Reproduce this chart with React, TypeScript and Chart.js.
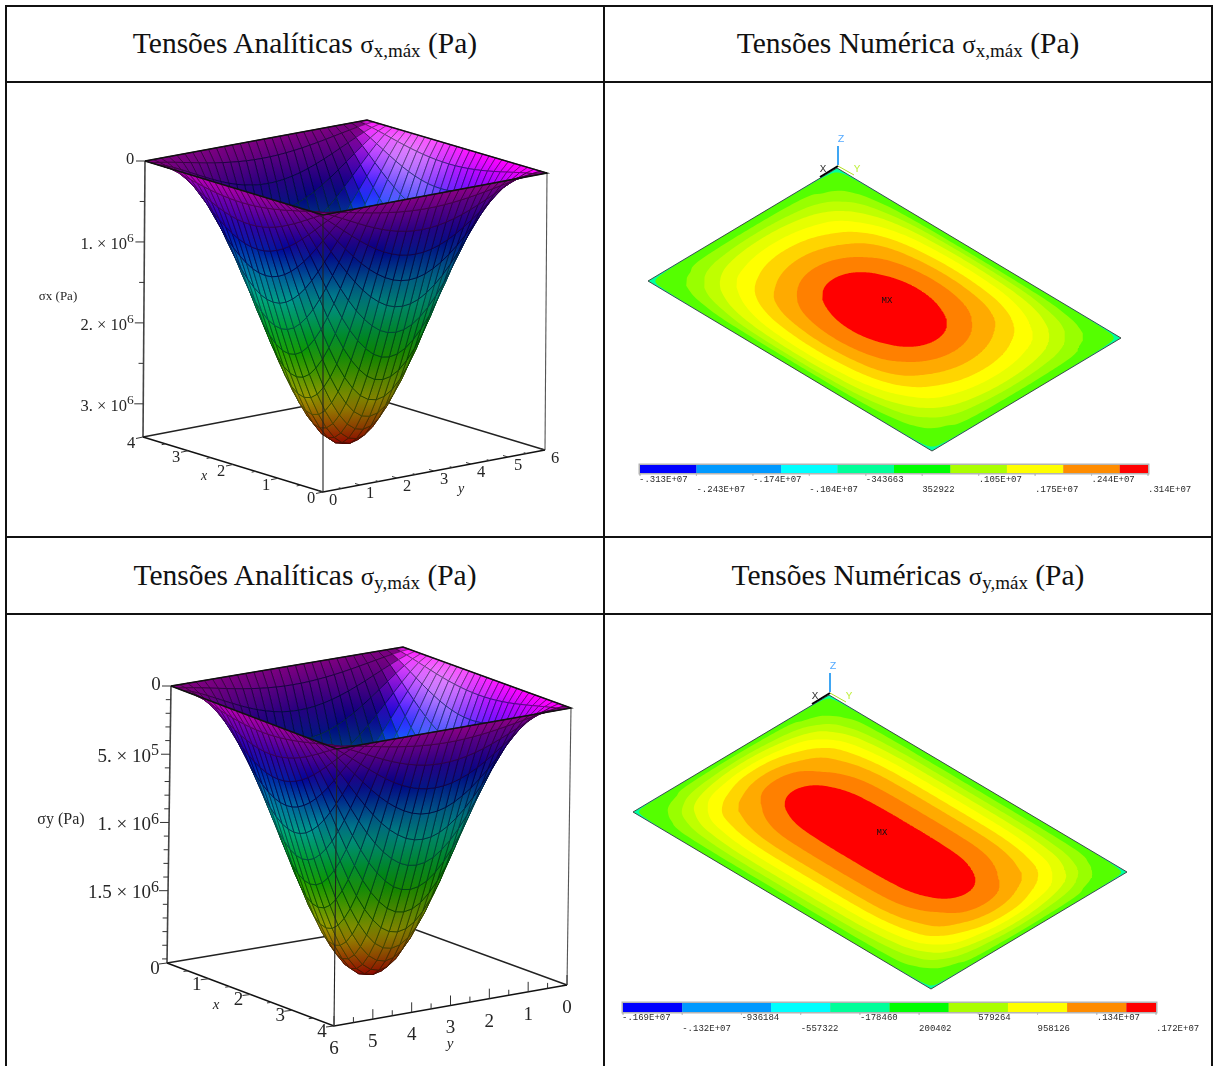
import React, { useEffect, useRef } from "react";
import { Chart, registerables } from "chart.js";

Chart.register(...registerables);

// ---------- data ----------
const xTicks = [0, 1, 2, 3, 4];
const yTicks = [0, 1, 2, 3, 4, 5, 6];
const xMinorStep = 0.5;
const yMinorStep = 0.5;

// normalised stress profile across the plate (29 grid lines each way)
const profileAlongX = [0, 0.058, 0.142, 0.238, 0.338, 0.44, 0.541, 0.637, 0.726, 0.806, 0.873, 0.927, 0.968, 0.992, 1, 0.992, 0.968, 0.927, 0.873, 0.806, 0.726, 0.637, 0.541, 0.44, 0.338, 0.238, 0.142, 0.058, 0];
const profileAlongY = [0, 0.058, 0.142, 0.238, 0.338, 0.44, 0.541, 0.637, 0.726, 0.806, 0.873, 0.927, 0.968, 0.992, 1, 0.992, 0.968, 0.927, 0.873, 0.806, 0.726, 0.637, 0.541, 0.44, 0.338, 0.238, 0.142, 0.058, 0];

const sxPeak = 3.41e6;
const sxAxisMax = 3.41e6;
const sxMajorTicks = [0, 1e6, 2e6, 3e6];
const sxMajorLabels = [["0", ""], ["1. × 10", "6"], ["2. × 10", "6"], ["3. × 10", "6"]];
const sxMinorTicks = [5e5, 1.5e6, 2.5e6];

const syPeak = 2.03e6;
const syAxisMax = 2.03e6;
const syMajorTicks = [0, 5e5, 1e6, 1.5e6];
const syMajorLabels = [["0", ""], ["5. × 10", "5"], ["1. × 10", "6"], ["1.5 × 10", "6"]];
const syMinorTicks = [1e5, 2e5, 3e5, 4e5, 6e5, 7e5, 8e5, 9e5, 1.1e6, 1.2e6, 1.3e6, 1.4e6, 1.6e6, 1.7e6, 1.8e6, 1.9e6, 2e6];

// contour bands of the numeric plots
const bandColors = ["#55ff00", "#99ff00", "#bfff00", "#e6ff00", "#ffff00", "#ffd500", "#ffaa00", "#ff8000", "#ff0000"];
const bandLevels = [0.000003, 0.005, 0.022, 0.055, 0.115, 0.21, 0.345, 0.53, 0.74];
const fieldValues = [1, 0.928, 0.74, 0.53, 0.345, 0.21, 0.115, 0.055, 0.022, 0.005, 0.000003, 0.0000001];
const sxCrossAlongX = [0, 0.18, 0.36, 0.52, 0.63, 0.72, 0.8, 0.86, 0.91, 0.95, 0.999, 1];
const sxCrossAlongY = [0, 0.18, 0.36, 0.49, 0.6, 0.7, 0.78, 0.85, 0.9, 0.95, 0.999, 1];
const syCrossAlongX = [0, 0.15, 0.3, 0.46, 0.58, 0.67, 0.75, 0.82, 0.88, 0.94, 0.999, 1];
const syCrossAlongY = [0, 0.3, 0.45, 0.58, 0.7, 0.77, 0.83, 0.87, 0.91, 0.94, 0.975, 0.999, 1];
const syValuesAlongY = [1, 0.98, 0.9, 0.74, 0.53, 0.345, 0.21, 0.115, 0.055, 0.022, 0.005, 0.000003, 0.0000001];

// colour bars
const barColors = ["#0000ff", "#0099ff", "#00ffff", "#00ff99", "#00ff00", "#aaff00", "#ffff00", "#ff8c00", "#ff0000"];
const barStops = [0, 1, 2.5, 3.5, 4.5, 5.5, 6.5, 7.5, 8.5, 9];
const sxBarLabels = ["-.313E+07", "-.243E+07", "-.174E+07", "-.104E+07", "-343663", "352922", ".105E+07", ".175E+07", ".244E+07", ".314E+07"];
const syBarLabels = ["-.169E+07", "-.132E+07", "-936184", "-557322", "-178460", "200402", "579264", "958126", ".134E+07", ".172E+07"];

// ---------- helpers ----------
type P = [number, number];
const lerp = (a: P, b: P, t: number): P => [a[0] + (b[0] - a[0]) * t, a[1] + (b[1] - a[1]) * t];
const clamp = (v: number, a = 0, b = 1) => Math.max(a, Math.min(b, v));
const smooth = (e0: number, e1: number, v: number) => {
  const t = clamp((v - e0) / (e1 - e0));
  return t * t * (3 - 2 * t);
};
const hex2 = (n: number) => Math.round(clamp(n, 0, 255)).toString(16).padStart(2, "0");
function hsv(h: number, s: number, v: number, dark = 1) {
  const c = v * s;
  const hh = ((h % 360) + 360) % 360 / 60;
  const x = c * (1 - Math.abs((hh % 2) - 1));
  let rgb = [0, 0, 0];
  if (hh < 1) rgb = [c, x, 0];
  else if (hh < 2) rgb = [x, c, 0];
  else if (hh < 3) rgb = [0, c, x];
  else if (hh < 4) rgb = [0, x, c];
  else if (hh < 5) rgb = [x, 0, c];
  else rgb = [c, 0, x];
  const m = v - c;
  return "#" + rgb.map((q) => hex2((q + m) * 255 * dark)).join("");
}

const polyDs = (pts: P[], fillColor: any, border = "transparent", bw = 0) => ({
  data: pts.map((p) => ({ x: p[0], y: p[1] })),
  showLine: true,
  fill: "shape",
  backgroundColor: fillColor,
  borderColor: border,
  borderWidth: bw,
  pointRadius: 0,
  tension: 0,
});
const lineDs = (pts: P[], color: string, bw = 1) => ({
  data: pts.map((p) => ({ x: p[0], y: p[1] })),
  showLine: true,
  fill: false,
  borderColor: color,
  borderWidth: bw,
  pointRadius: 0,
  tension: 0,
});

type TextItem = { text: string; x: number; y: number; font: string; color: string; align?: CanvasTextAlign };

function makeChart(canvas: HTMLCanvasElement, rect: number[], datasets: any[], texts: TextItem[]) {
  const [left, top, w, h] = rect;
  const textLayer = {
    id: "textLayer",
    afterDatasetsDraw(chart: any) {
      const ctx = chart.ctx;
      ctx.save();
      for (const t of texts) {
        ctx.font = t.font;
        ctx.fillStyle = t.color;
        ctx.textAlign = t.align || "center";
        ctx.textBaseline = "middle";
        ctx.fillText(t.text, chart.scales.x.getPixelForValue(t.x), chart.scales.y.getPixelForValue(t.y));
      }
      ctx.restore();
    },
  };
  return new Chart(canvas, {
    type: "scatter",
    data: { datasets },
    options: {
      animation: false,
      responsive: false,
      events: [],
      layout: { padding: 0 },
      plugins: { legend: { display: false }, tooltip: { enabled: false } },
      scales: {
        x: { type: "linear", display: false, min: left, max: left + w },
        y: { type: "linear", display: false, reverse: true, min: top, max: top + h },
      },
    } as any,
    plugins: [textLayer],
  } as any);
}

// ---------- 3-D surface panels ----------
type Box = { near: P; left: P; right: P; back: P; nearB: P; leftB: P; rightB: P; backB: P };

function project(b: Box, u: number, v: number, w: number): P {
  const t0 = lerp(lerp(b.near, b.left, u), lerp(b.right, b.back, u), v);
  const t1 = lerp(lerp(b.nearB, b.leftB, u), lerp(b.rightB, b.backB, u), v);
  return lerp(t0, t1, w);
}

function surfaceDatasets(canvas: HTMLCanvasElement, rect: number[], b: Box, peak: number, axisMax: number, reversed: boolean, meshDark: number) {
  const ctx = canvas.getContext("2d")!;
  const nx = profileAlongX.length - 1;
  const ny = profileAlongY.length - 1;
  const W = (i: number, j: number) => {
    const ii = clamp(i, 0, nx), jj = clamp(j, 0, ny);
    const pi = reversed ? profileAlongX[nx - ii] : profileAlongX[ii];
    const pj = reversed ? profileAlongY[ny - jj] : profileAlongY[jj];
    return (peak * pi * pj) / axisMax;
  };
  const shade = (i: number, j: number, inner: boolean, dark = 1) => {
    const w = W(i, j), um = i / nx, vm = j / ny;
    const du = W(i + 1, j) - W(i - 1, j);
    const dv = W(i, j + 1) - W(i, j - 1);
    const hue = 300 * (1 - w);
    let val: number, sat = 1;
    if (inner) {
      const len = Math.hypot(du, dv) || 1;
      const bright = dv < 0 ? smooth(0.42, 0.88, Math.abs(dv) / len) : 0;
      val = 0.5 + 0.5 * bright;
      const spec = Math.exp(-(((um - 0.72) ** 2) / 0.05 + ((vm - 0.95) ** 2) / 0.006));
      sat = 1 - 0.5 * spec * bright - 0.12 * bright * w;
    } else {
      val = 0.52 + 0.28 * clamp(um - vm * 0.6);
    }
    return hsv(hue, clamp(sat), clamp(val), dark);
  };
  const out: any[] = [];
  for (let i = 0; i < nx; i++) {
    for (let j = 0; j < ny; j++) {
      const idx: P[] = [[i, j], [i + 1, j], [i + 1, j + 1], [i, j + 1]];
      const ws = idx.map(([p, q]) => W(p, q));
      const pts: P[] = idx.map(([p, q], k) => project(b, p / nx, q / ny, ws[k]));
      let area = 0;
      for (let k = 0; k < 4; k++) {
        const p = pts[k], q = pts[(k + 1) % 4];
        area += p[0] * q[1] - q[0] * p[1];
      }
      const inner = area > 0;
      let lo = 0, hi = 0;
      ws.forEach((w, k) => {
        if (w < ws[lo]) lo = k;
        if (w > ws[hi]) hi = k;
      });
      if (lo === hi) hi = (lo + 2) % 4;
      const g = ctx.createLinearGradient(pts[lo][0] - rect[0], pts[lo][1] - rect[1], pts[hi][0] - rect[0], pts[hi][1] - rect[1]);
      g.addColorStop(0, shade(idx[lo][0], idx[lo][1], inner));
      g.addColorStop(1, shade(idx[hi][0], idx[hi][1], inner));
      out.push(polyDs([...pts, pts[0]], g, shade(i, j, inner, meshDark), 0.9));
    }
  }
  return out;
}

type SurfaceSpec = {
  rect: number[];
  box: Box;
  peak: number;
  axisMax: number;
  reversed: boolean;
  xToU: (x: number) => number;
  yToV: (y: number) => number;
  majors: number[];
  majorLabels: string[][];
  minors: number[];
  labelRight: number;
  tickFontSize: number;
  axisLabel: TextItem;
  xLabel: TextItem;
  yLabel: TextItem;
  xOff: P;
  yOff: P;
  xTick: P;
  yTick: P;
};

function surfacePanel(canvas: HTMLCanvasElement, s: SurfaceSpec) {
  const b = s.box;
  const front: any[] = [];
  const texts: TextItem[] = [];
  const tickFont = `${s.tickFontSize}px "Liberation Serif"`;
  const color = "#262626";
  const zPt = (z: number) => project(b, 1, 0, z / s.axisMax);
  s.majors.forEach((z, k) => {
    const p = zPt(z);
    front.push(lineDs([[p[0] - 9, p[1]], p], "#333", 1));
    const [main, exp] = s.majorLabels[k];
    if (exp) {
      texts.push({ text: main, x: s.labelRight - 7, y: p[1] + 2.5, font: tickFont, color, align: "right" });
      texts.push({ text: exp, x: s.labelRight - 7, y: p[1] - 3, font: `${s.tickFontSize - 3}px "Liberation Serif"`, color, align: "left" });
    } else {
      texts.push({ text: main, x: p[0] - 15, y: p[1] - 1, font: tickFont, color });
    }
  });
  s.minors.forEach((z) => {
    const p = zPt(z);
    front.push(lineDs([[p[0] - 5, p[1]], p], "#333", 1));
  });
  const xBase = (x: number) => project(b, s.xToU(x), 0, 1);
  const yBase = (y: number) => project(b, 0, s.yToV(y), 1);
  xTicks.forEach((x) => {
    const p = xBase(x);
    front.push(lineDs([p, [p[0] + s.xTick[0], p[1] + s.xTick[1]]], "#333", 1));
    texts.push({ text: String(x), x: p[0] + s.xOff[0], y: p[1] + s.xOff[1], font: tickFont, color });
    if (x < 4) {
      const m = xBase(x + xMinorStep);
      front.push(lineDs([m, [m[0] + s.xTick[0] * 0.55, m[1] + s.xTick[1] * 0.55]], "#333", 1));
    }
  });
  yTicks.forEach((y) => {
    const p = yBase(y);
    front.push(lineDs([p, [p[0] + s.yTick[0], p[1] + s.yTick[1]]], "#333", 1));
    texts.push({ text: String(y), x: p[0] + s.yOff[0], y: p[1] + s.yOff[1], font: tickFont, color });
    if (y < 6) {
      const m = yBase(y + yMinorStep);
      front.push(lineDs([m, [m[0] + s.yTick[0] * 0.55, m[1] + s.yTick[1] * 0.55]], "#333", 1));
    }
  });
  texts.push(s.axisLabel, s.xLabel, s.yLabel);

  const overlay = [
    ...front,
    lineDs([b.near, b.nearB], "#222", 1.1),
    lineDs([b.leftB, b.nearB, b.rightB], "#111", 1.5),
    lineDs([b.left, b.near, b.right, b.back, b.left], "#111", 1.5),
  ];
  const backLines = [
    lineDs([b.left, b.leftB], "#444", 1.6),
    lineDs([b.right, b.rightB], "#555", 1.1),
    lineDs([b.leftB, b.backB, b.rightB], "#222", 1.5),
  ];
  const datasets = [...overlay, ...surfaceDatasets(canvas, s.rect, b, s.peak, s.axisMax, s.reversed, 0.52), ...backLines];
  return makeChart(canvas, s.rect, datasets, texts);
}

// ---------- numeric contour panels ----------
// cubic through the log of the band values, so contours stay smooth
function makeProfile(pos: number[], val: number[]) {
  const ly = val.map((v) => Math.log(v));
  const n = pos.length;
  const d: number[] = [];
  for (let i = 0; i < n - 1; i++) d.push((ly[i + 1] - ly[i]) / (pos[i + 1] - pos[i]));
  const m: number[] = [0];
  for (let i = 1; i < n - 1; i++) {
    const h0 = pos[i] - pos[i - 1], h1 = pos[i + 1] - pos[i];
    const avg = (h1 * d[i - 1] + h0 * d[i]) / (h0 + h1);
    const limit = 3 * Math.min(Math.abs(d[i - 1]), Math.abs(d[i]));
    m.push(-Math.min(Math.abs(avg), limit));
  }
  m.push(d[n - 2]);
  return (q: number) => {
    const t = Math.min(1, Math.abs(q));
    let i = 0;
    while (i < n - 2 && t > pos[i + 1]) i++;
    const h = pos[i + 1] - pos[i];
    const f = (t - pos[i]) / h;
    const f2 = f * f, f3 = f2 * f;
    return Math.exp((2 * f3 - 3 * f2 + 1) * ly[i] + (f3 - 2 * f2 + f) * h * m[i] + (-2 * f3 + 3 * f2) * ly[i + 1] + (f3 - f2) * h * m[i + 1]);
  };
}

type PlateSpec = {
  rect: number[];
  top: P;
  left: P;
  right: P;
  crossX: number[];
  valX: number[];
  crossY: number[];
  valY: number[];
  mx: P;
  barLeft: number;
  barRight: number;
  barTop: number;
  barBottom: number;
  barLabels: string[];
  labelRow1: number;
  labelRow2: number;
};

function platePanel(canvas: HTMLCanvasElement, s: PlateSpec) {
  const toPage = (u: number, v: number): P => [
    s.top[0] + ((u + 1) / 2) * (s.left[0] - s.top[0]) + ((v + 1) / 2) * (s.right[0] - s.top[0]),
    s.top[1] + ((u + 1) / 2) * (s.left[1] - s.top[1]) + ((v + 1) / 2) * (s.right[1] - s.top[1]),
  ];
  const gx = makeProfile(s.crossX, s.valX);
  const gy = makeProfile(s.crossY, s.valY);
  const field = (u: number, v: number) => gx(u) * gy(v);
  const contour = (level: number): P[] => {
    const pts: P[] = [];
    const N = 360;
    for (let k = 0; k <= N; k++) {
      const th = (2 * Math.PI * k) / N;
      const c = Math.cos(th), d = Math.sin(th);
      let lo = 0, hi = 1 / Math.max(Math.abs(c), Math.abs(d));
      for (let it = 0; it < 26; it++) {
        const mid = (lo + hi) / 2;
        if (field(mid * c, mid * d) > level) lo = mid;
        else hi = mid;
      }
      pts.push(toPage(lo * c, lo * d));
    }
    return pts;
  };
  const corners: P[] = [toPage(-1, -1), toPage(1, -1), toPage(1, 1), toPage(-1, 1), toPage(-1, -1)];
  const bands = bandLevels.map((lv, i) => polyDs(contour(lv), bandColors[i]));
  const o = s.top;
  const triad = [
    lineDs([[o[0] + 1, o[1] - 3], [o[0] + 1, o[1] - 22]], "#1090f0", 1.6),
    lineDs([[o[0] + 1, o[1] - 2], [o[0] - 17, o[1] + 9]], "#000", 2),
    lineDs([[o[0] + 1, o[1] - 2], [o[0] + 17, o[1] + 7]], "#b0e020", 1),
  ];
  const outline = lineDs(corners, "#3a3a3a", 0.9);
  const slot = (s.barRight - s.barLeft) / 9;
  const barRects = barColors.map((c, i) => {
    const x0 = s.barLeft + barStops[i] * slot, x1 = s.barLeft + barStops[i + 1] * slot;
    return polyDs([[x0, s.barTop], [x1, s.barTop], [x1, s.barBottom], [x0, s.barBottom], [x0, s.barTop]], c);
  });
  const frame = polyDs(
    [[s.barLeft - 1.5, s.barTop - 1.5], [s.barRight + 1.5, s.barTop - 1.5], [s.barRight + 1.5, s.barBottom + 1.5], [s.barLeft - 1.5, s.barBottom + 1.5], [s.barLeft - 1.5, s.barTop - 1.5]],
    "#b4b4b4"
  );
  const barTicks = s.barLabels.map((_, i) => {
    const x = s.barLeft + i * slot;
    return lineDs([[x, s.barBottom + 1], [x, s.barBottom + 2.5]], "#bbb", 1);
  });
  const font = '9px "Liberation Mono"';
  const texts: TextItem[] = s.barLabels.map((t, i) => ({
    text: t,
    x: s.barLeft + i * slot - (i === 0 ? 1 : 0),
    y: i % 2 === 0 ? s.labelRow1 : s.labelRow2,
    font,
    color: "#2a2a2a",
    align: "left" as CanvasTextAlign,
  }));
  texts.push(
    { text: "MX", x: s.mx[0], y: s.mx[1], font: '9px "Liberation Mono"', color: "#111" },
    { text: "Z", x: o[0] + 4, y: o[1] - 29, font: '11px "Liberation Mono"', color: "#55aaff" },
    { text: "X", x: o[0] - 14, y: o[1] + 1, font: '11px "Liberation Mono"', color: "#333" },
    { text: "Y", x: o[0] + 20, y: o[1] + 1, font: '11px "Liberation Mono"', color: "#c0f040" }
  );
  const datasets = [
    ...triad,
    outline,
    ...bands.slice().reverse(),
    polyDs(corners, "#00ffa0"),
    ...barTicks,
    ...barRects.slice().reverse(),
    frame,
  ];
  return makeChart(canvas, s.rect, datasets, texts);
}

// ---------- layout ----------
const LEFT_TOP = [8, 84, 595, 452];
const RIGHT_TOP = [606, 84, 605, 452];
const LEFT_BOTTOM = [8, 616, 595, 450];
const RIGHT_BOTTOM = [606, 616, 605, 450];

const surfaceTop: SurfaceSpec = {
  rect: LEFT_TOP,
  box: {
    near: [323, 215], left: [145, 161], right: [547, 173], back: [367, 120],
    nearB: [323, 492], leftB: [143, 437], rightB: [545, 450], backB: [363, 395],
  },
  peak: sxPeak,
  axisMax: sxAxisMax,
  reversed: false,
  xToU: (x) => x / 4,
  yToV: (y) => y / 6,
  majors: sxMajorTicks,
  majorLabels: sxMajorLabels,
  minors: sxMinorTicks,
  labelRight: 134,
  tickFontSize: 16.5,
  axisLabel: { text: "σx (Pa)", x: 58, y: 297, font: '13px "Liberation Serif"', color: "#262626" },
  xLabel: { text: "x", x: 204, y: 476, font: 'italic 14px "Liberation Serif"', color: "#262626" },
  yLabel: { text: "y", x: 461, y: 489, font: 'italic 14px "Liberation Serif"', color: "#262626" },
  xOff: [-12, 7],
  yOff: [10, 9],
  xTick: [-7, 1.5],
  yTick: [-5, -1.5],
};

const surfaceBottom: SurfaceSpec = {
  rect: LEFT_BOTTOM,
  box: {
    near: [337, 749], left: [171, 686], right: [571, 708], back: [403, 647],
    nearB: [334, 1026], leftB: [167, 963], rightB: [567, 985], backB: [400, 924],
  },
  peak: syPeak,
  axisMax: syAxisMax,
  reversed: true,
  xToU: (x) => (4 - x) / 4,
  yToV: (y) => (6 - y) / 6,
  majors: syMajorTicks,
  majorLabels: syMajorLabels,
  minors: syMinorTicks,
  labelRight: 158,
  tickFontSize: 19,
  axisLabel: { text: "σy (Pa)", x: 61, y: 820, font: '16px "Liberation Serif"', color: "#262626" },
  xLabel: { text: "x", x: 216, y: 1005, font: 'italic 15px "Liberation Serif"', color: "#262626" },
  yLabel: { text: "y", x: 450, y: 1044, font: 'italic 15px "Liberation Serif"', color: "#262626" },
  xOff: [-12, 6],
  yOff: [0, 23],
  xTick: [-8, 1],
  yTick: [0, -10],
};

const plateTop: PlateSpec = {
  rect: RIGHT_TOP,
  top: [837, 168],
  left: [648, 281],
  right: [1121, 338],
  crossX: sxCrossAlongX,
  valX: fieldValues,
  crossY: sxCrossAlongY,
  valY: fieldValues,
  mx: [887, 301],
  barLeft: 640,
  barRight: 1148,
  barTop: 465,
  barBottom: 473,
  barLabels: sxBarLabels,
  labelRow1: 480,
  labelRow2: 490,
};

const plateBottom: PlateSpec = {
  rect: RIGHT_BOTTOM,
  top: [829, 695],
  left: [633, 812],
  right: [1127, 872],
  crossX: syCrossAlongX,
  valX: fieldValues,
  crossY: syCrossAlongY,
  valY: syValuesAlongY,
  mx: [882, 833],
  barLeft: 623,
  barRight: 1156,
  barTop: 1003,
  barBottom: 1012,
  barLabels: syBarLabels,
  labelRow1: 1018,
  labelRow2: 1029,
};

const headers = [
  { text: "Tensões Analíticas ", sub: "x,máx", left: 7, top: 6, w: 596, h: 74 },
  { text: "Tensões Numérica ", sub: "x,máx", left: 605, top: 6, w: 606, h: 74 },
  { text: "Tensões Analíticas ", sub: "y,máx", left: 7, top: 538, w: 596, h: 74 },
  { text: "Tensões Numéricas ", sub: "y,máx", left: 605, top: 538, w: 606, h: 74 },
];

const rulesH = [[5, 5, 1208], [5, 81, 1208], [5, 536, 1208], [5, 613, 1208]];
const rulesV = [[5, 5, 1061], [603, 5, 1061], [1211, 5, 1061]];

function Canvas({ rect, draw }: { rect: number[]; draw: (c: HTMLCanvasElement) => Chart }) {
  const ref = useRef<HTMLCanvasElement | null>(null);
  useEffect(() => {
    const chart = draw(ref.current!);
    return () => chart.destroy();
  }, []);
  return (
    <canvas
      ref={ref}
      width={rect[2]}
      height={rect[3]}
      style={{ position: "absolute", left: rect[0], top: rect[1], width: rect[2], height: rect[3], display: "block", filter: "blur(0.45px)" }}
    />
  );
}

export default function App() {
  return (
    <div style={{ position: "fixed", left: 0, top: 0, width: 1213, height: 1066, overflow: "hidden", background: "#fff" }}>
      <Canvas rect={LEFT_TOP} draw={(c) => surfacePanel(c, surfaceTop)} />
      <Canvas rect={RIGHT_TOP} draw={(c) => platePanel(c, plateTop)} />
      <Canvas rect={LEFT_BOTTOM} draw={(c) => surfacePanel(c, surfaceBottom)} />
      <Canvas rect={RIGHT_BOTTOM} draw={(c) => platePanel(c, plateBottom)} />
      {rulesH.map((r, i) => (
        <div key={"h" + i} style={{ position: "absolute", left: r[0], top: r[1], width: r[2], height: 2, background: "#111" }} />
      ))}
      {rulesV.map((r, i) => (
        <div key={"v" + i} style={{ position: "absolute", left: r[0], top: r[1], width: 2, height: r[2], background: "#111" }} />
      ))}
      {headers.map((h, i) => (
        <div
          key={i}
          style={{
            position: "absolute", left: h.left, top: h.top, width: h.w, height: h.h,
            display: "flex", alignItems: "center", justifyContent: "center",
            fontFamily: '"Liberation Serif"', fontSize: 29.5, color: "#111", whiteSpace: "pre",
          }}
        >
          <span>
            {h.text}
            <span style={{ fontSize: 25 }}>σ</span>
            <sub style={{ fontSize: 19, verticalAlign: "-4px", lineHeight: 0 }}>{h.sub}</sub>
            {" (Pa)"}
          </span>
        </div>
      ))}
    </div>
  );
}
